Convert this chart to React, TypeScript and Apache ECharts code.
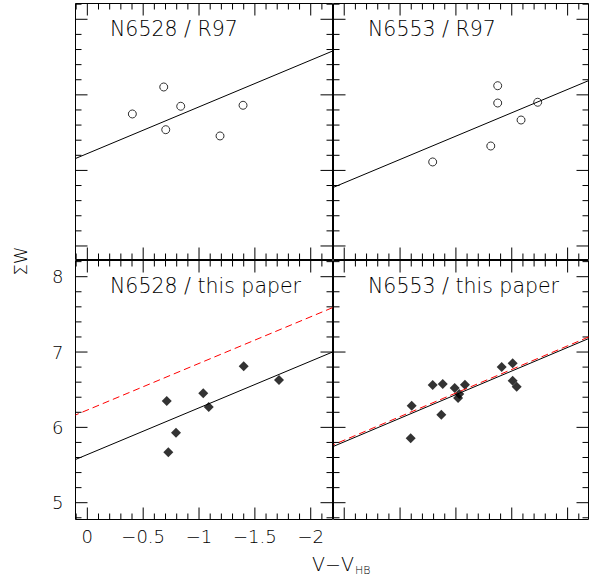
import React, { useEffect, useRef } from 'react';
import * as echarts from 'echarts';

// Panel titles (TL, TR, BL, BR)
const panelTitles = ['N6528 / R97', 'N6553 / R97', 'N6528 / this paper', 'N6553 / this paper'];

// Top-left: N6528 / R97 (open circles)
const n6528R97X = [-0.403, -0.684, -0.702, -0.836, -1.188, -1.394];
const n6528R97Y = [4.747, 5.104, 4.539, 4.849, 4.456, 4.862];
// Top-right: N6553 / R97 (open circles)
const n6553R97X = [-0.792, -1.312, -1.374, -1.374, -1.583, -1.732];
const n6553R97Y = [4.112, 4.323, 5.121, 4.892, 4.667, 4.902];
// Bottom-left: N6528 / this paper (filled diamonds)
const n6528PaperX = [-0.711, -0.725, -0.794, -1.038, -1.087, -1.4, -1.716];
const n6528PaperY = [6.35, 5.669, 5.929, 6.452, 6.27, 6.811, 6.629];
// Bottom-right: N6553 / this paper (filled diamonds)
const n6553PaperX = [-0.604, -0.595, -0.792, -0.882, -0.869, -0.989, -1.03, -1.019, -1.081, -1.41, -1.508, -1.508, -1.544];
const n6553PaperY = [6.288, 5.855, 6.562, 6.576, 6.168, 6.523, 6.443, 6.39, 6.566, 6.801, 6.85, 6.619, 6.54];

// Linear fits, [intercept, slope]: ΣW = a + b·(V−V_HB)
const fitSolid = [[4.223, -0.618], [3.836, -0.618], [5.639, -0.62], [5.808, -0.6265]];
const fitDashed = [null, null, [6.23, -0.619], [5.83, -0.626]];

// Tick labels
const xTickLabels = [0, -0.5, -1, -1.5, -2];
const yTickLabels = [5, 6, 7, 8];
const yTopTicks = [3, 4, 5, 6];

const panelX = [n6528R97X, n6553R97X, n6528PaperX, n6553PaperX];
const panelY = [n6528R97Y, n6553R97Y, n6528PaperY, n6553PaperY];

const grids = [
  { left: 75.5, top: 3.5, width: 257, height: 256 },
  { left: 333.5, top: 3.5, width: 255, height: 256 },
  { left: 75.5, top: 260.5, width: 257, height: 259 },
  { left: 333.5, top: 260.5, width: 255, height: 259 },
];
const xExt = [[-2.195, 0.106], [-2.187, 0.096], [-2.195, 0.106], [-2.187, 0.096]];
const yExt = [[2.821, 6.209], [2.821, 6.209], [4.777, 8.215], [4.777, 8.215]];

const FONT = 'DejaVu Sans';
const fmtX = (v: number) => (Math.abs(v) < 1e-9 ? '0' : (v < 0 ? '\u2212' : '') + String(Math.abs(v)));
const near = (a: number, list: number[]) => list.some((b) => Math.abs(a - b) < 1e-6);

function tickData(i: number) {
  const out: number[][] = [];
  const [x0, x1] = xExt[i];
  const [y0, y1] = yExt[i];
  for (let k = Math.ceil(x0 * 10); k <= Math.floor(x1 * 10); k++) {
    const v = k / 10;
    out.push([v, 0, near(v, xTickLabels) ? 1 : 0]);
  }
  const majY = i < 2 ? yTopTicks : yTickLabels;
  for (let k = Math.ceil(y0 * 5 - 1e-9); k <= Math.floor(y1 * 5 + 1e-9); k++) {
    const v = Math.round(k * 2) / 10;
    out.push([v, 1, near(v, majY) ? 1 : 0]);
  }
  return out;
}

export default function App() {
  const ref = useRef<HTMLDivElement>(null);
  useEffect(() => {
    if (!ref.current) return;
    const chart = echarts.init(ref.current, null, { renderer: 'svg' });
    const series: any[] = [];
    for (let i = 0; i < 4; i++) {
      const [x0, x1] = xExt[i];
      const ymid = (yExt[i][0] + yExt[i][1]) / 2;
      const xmid = (x0 + x1) / 2;
      const fd = fitDashed[i];
      if (fd) {
        series.push({
          type: 'line', xAxisIndex: i, yAxisIndex: i, symbol: 'none', silent: true,
          data: [[x0, fd[0] + fd[1] * x0], [x1, fd[0] + fd[1] * x1]],
          lineStyle: { color: '#ff0000', width: 1, type: [7, 4] },
        });
      }
      const fs = fitSolid[i];
      series.push({
        type: 'line', xAxisIndex: i, yAxisIndex: i, symbol: 'none', silent: true,
        data: [[x0, fs[0] + fs[1] * x0], [x1, fs[0] + fs[1] * x1]],
        lineStyle: { color: '#000', width: 1 },
      });
      series.push({
        type: 'scatter', xAxisIndex: i, yAxisIndex: i, silent: true,
        data: panelX[i].map((x, j) => [x, panelY[i][j]]),
        symbol: i < 2 ? 'circle' : 'diamond',
        symbolSize: i < 2 ? 8 : 10,
        itemStyle: i < 2
          ? { color: 'rgba(0,0,0,0)', borderColor: '#000', borderWidth: 1 }
          : { color: '#000' },
      });
      series.push({
        type: 'custom', xAxisIndex: i, yAxisIndex: i, silent: true,
        data: tickData(i),
        renderItem: (params: any, api: any) => {
          const v = api.value(0);
          const dir = api.value(1);
          const major = api.value(2);
          const cs = params.coordSys;
          const len = major ? 12 : 6;
          const st = { stroke: '#000', lineWidth: 1 };
          if (dir === 0) {
            const px = api.coord([v, ymid])[0];
            return {
              type: 'group',
              children: [
                { type: 'line', shape: { x1: px, y1: cs.y + cs.height, x2: px, y2: cs.y + cs.height - len }, style: st },
                { type: 'line', shape: { x1: px, y1: cs.y, x2: px, y2: cs.y + len }, style: st },
              ],
            };
          }
          const py = api.coord([xmid, v])[1];
          return {
            type: 'group',
            children: [
              { type: 'line', shape: { x1: cs.x, y1: py, x2: cs.x + len, y2: py }, style: st },
              { type: 'line', shape: { x1: cs.x + cs.width, y1: py, x2: cs.x + cs.width - len, y2: py }, style: st },
            ],
          };
        },
      });
    }

    const graphic: any[] = panelTitles.map((t, i) => ({
      type: 'text',
      x: grids[i].left + 34.5,
      y: grids[i].top + 25,
      style: {
        text: t, fill: '#000', fontSize: 20.5, fontFamily: FONT, fontWeight: 200,
        textAlign: 'left', textVerticalAlign: 'middle',
      },
    }));
    graphic.push({
      type: 'text', x: 20, y: 261, rotation: Math.PI / 2,
      style: { text: '\u03A3W', fill: '#000', fontSize: 18, fontFamily: FONT, fontWeight: 200, textAlign: 'center', textVerticalAlign: 'middle' },
    });
    graphic.push({
      type: 'text', x: 312, y: 564,
      style: { text: 'V\u2212V', fill: '#000', fontSize: 19, fontFamily: FONT, fontWeight: 200, textAlign: 'left', textVerticalAlign: 'middle' },
    });
    graphic.push({
      type: 'text', x: 355, y: 570,
      style: { text: 'HB', fill: '#000', fontSize: 11, fontFamily: FONT, fontWeight: 200, textAlign: 'left', textVerticalAlign: 'middle' },
    });

    chart.setOption({
      animation: false,
      backgroundColor: '#fff',
      grid: grids.map((g) => ({ ...g, show: true, borderColor: '#000', borderWidth: 1, backgroundColor: 'transparent', containLabel: false })),
      xAxis: grids.map((_, i) => ({
        type: 'value', gridIndex: i, min: xExt[i][0], max: xExt[i][1], inverse: true, splitNumber: 5,
        axisLine: { show: false }, axisTick: { show: false }, splitLine: { show: false },
        axisLabel: {
          show: i === 2, margin: 8, fontSize: 18, fontFamily: FONT, fontWeight: 200, color: '#000',
          showMinLabel: false, showMaxLabel: false,
          formatter: (v: number) => (near(v, xTickLabels) ? fmtX(v) : ''),
        },
      })),
      yAxis: grids.map((_, i) => ({
        type: 'value', gridIndex: i, min: yExt[i][0], max: yExt[i][1], splitNumber: 4,
        axisLine: { show: false }, axisTick: { show: false }, splitLine: { show: false },
        axisLabel: {
          show: i === 2, margin: 12, fontSize: 18, fontFamily: FONT, fontWeight: 200, color: '#000',
          showMinLabel: false, showMaxLabel: false,
          formatter: (v: number) => (near(v, yTickLabels) ? String(Math.round(v)) : ''),
        },
      })),
      series,
      graphic,
    });
    return () => chart.dispose();
  }, []);
  return <div ref={ref} style={{ position: 'absolute', left: 0, top: 0, width: 611, height: 580 }} />;
}
